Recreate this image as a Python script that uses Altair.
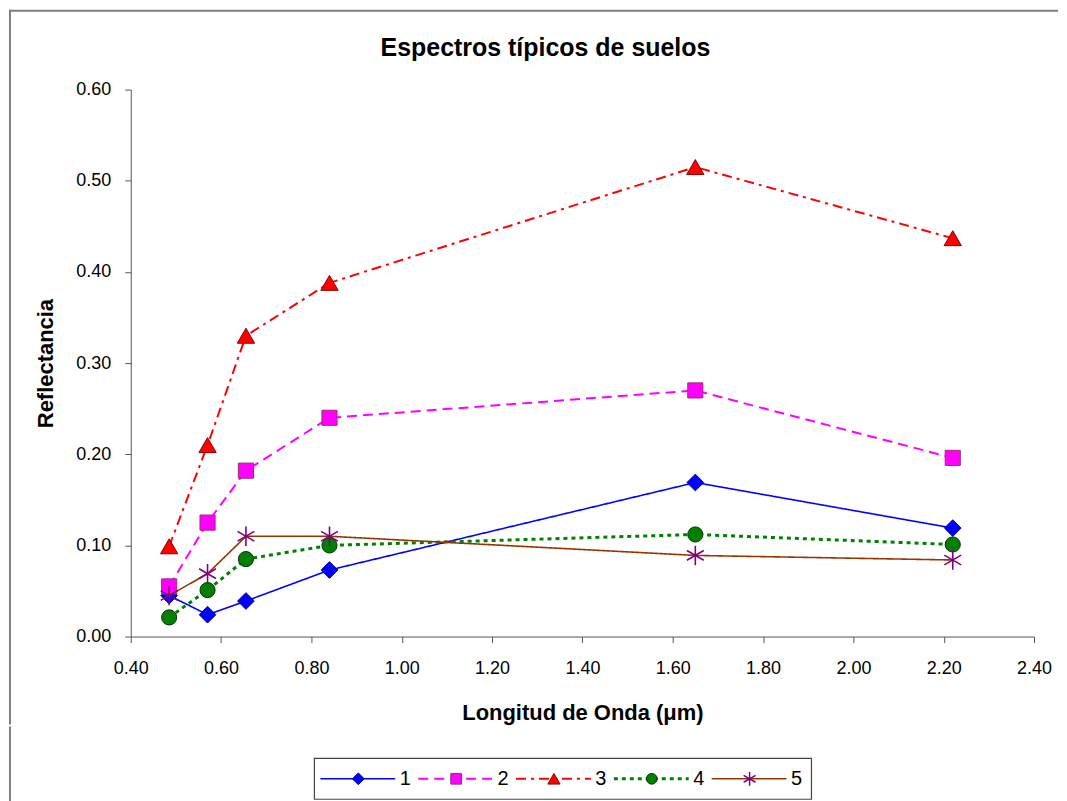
import altair as alt
import pandas as pd

# ---------------- data ----------------
wavelength = [0.485, 0.57, 0.655, 0.84, 1.65, 2.22]
series_names = ["1", "2", "3", "4", "5"]
serie_1 = [0.045, 0.024, 0.039, 0.073, 0.169, 0.119]
serie_2 = [0.055, 0.125, 0.182, 0.240, 0.270, 0.196]
serie_3 = [0.099, 0.210, 0.330, 0.388, 0.515, 0.437]
serie_4 = [0.021, 0.051, 0.085, 0.100, 0.112, 0.101]
serie_5 = [0.045, 0.069, 0.110, 0.110, 0.089, 0.084]
x_ticks = [0.40, 0.60, 0.80, 1.00, 1.20, 1.40, 1.60, 1.80, 2.00, 2.20, 2.40]
y_ticks = [0.00, 0.10, 0.20, 0.30, 0.40, 0.50, 0.60]

values = [serie_1, serie_2, serie_3, serie_4, serie_5]

ASTERISK = "M0,-1L0,1M-0.866,-0.5L0.866,0.5M-0.866,0.5L0.866,-0.5"

styles = {
    "1": dict(line="#0000FF", dash=[1, 0], width=1.6, shape="diamond",
              fill="#0000FF", stroke="#000080", size=280, filled=True),
    "2": dict(line="#FF00FF", dash=[10, 6], width=2, shape="square",
              fill="#FF00FF", stroke="#993366", size=230, filled=True),
    "3": dict(line="#FF0000", dash=[10, 5, 3, 5], width=2, shape="triangle-up",
              fill="#FF0000", stroke="#800000", size=300, filled=True),
    "4": dict(line="#008000", dash=[4, 4], width=3, shape="circle",
              fill="#008000", stroke="#003300", size=230, filled=True),
    "5": dict(line="#993300", dash=[1, 0], width=1.6, shape=ASTERISK,
              fill="#800080", stroke="#800080", size=380, filled=False),
}

FONT = "Liberation Sans"
W, H = 905, 548

xscale = alt.Scale(domain=[0.4, 2.4], nice=False, zero=False)
yscale = alt.Scale(domain=[0, 0.6], nice=False)

xaxis = alt.Axis(values=x_ticks, format=".2f", grid=False, title="Longitud de Onda (μm)",
                 labelFont=FONT, labelFontSize=18, labelColor="#000",
                 titleFont=FONT, titleFontSize=22, titleFontWeight="bold", titleColor="#000",
                 domainColor="#555", tickColor="#555", tickSize=6, labelPadding=17,
                 titlePadding=25, labelFlush=False)
yaxis = alt.Axis(values=y_ticks, format=".2f", grid=False, title="Reflectancia",
                 labelFont=FONT, labelFontSize=18, labelColor="#000",
                 titleFont=FONT, titleFontSize=22, titleFontWeight="bold", titleColor="#000",
                 domainColor="#555", tickColor="#555", tickSize=6, labelPadding=14,
                 titlePadding=18, labelFlush=False)

layers = []
for name, vals in zip(series_names, values):
    st = styles[name]
    df = pd.DataFrame({"wl": wavelength, "value": vals, "serie": name})
    line = alt.Chart(df).mark_line(color=st["line"], strokeDash=st["dash"],
                                   strokeWidth=st["width"]).encode(
        x=alt.X("wl:Q", scale=xscale, axis=xaxis),
        y=alt.Y("value:Q", scale=yscale, axis=yaxis),
    )
    pts = alt.Chart(df).mark_point(shape=st["shape"], size=st["size"], opacity=1,
                                   stroke=st["stroke"], fill=st["fill"],
                                   strokeWidth=1 if st["filled"] else 1.6,
                                   filled=st["filled"]).encode(x="wl:Q", y="value:Q")
    layers += [line, pts]

# outer frame of the figure (decoration): top and left edges
one = pd.DataFrame({"k": [0]})
frame_top = alt.Chart(one).mark_rule(color="#7f7f7f", strokeWidth=2).encode(
    x=alt.value(-122), x2=alt.value(929), y=alt.value(-79))
frame_left = alt.Chart(one).mark_rule(color="#7f7f7f", strokeWidth=2).encode(
    x=alt.value(-121), y=alt.value(-80), y2=alt.value(636))

main = alt.layer(*layers, frame_top, frame_left).properties(
    width=W, height=H,
    title=alt.TitleParams("Espectros típicos de suelos", font=FONT, fontSize=25,
                          fontWeight="bold", color="#000", offset=-52, dx=-37),
)

# ---------------- legend (own chart, own scales) ----------------
LW, LH = 905, 73
BOX_L, BOX_R, BOX_T, BOX_B = 184, 682, 28, 69
STEP = 98
FIRST = 228
lx = alt.Scale(domain=[0, LW], nice=False, zero=False)
ly = alt.Scale(domain=[0, LH], nice=False, zero=False, reverse=True)
leg_layers = []
box = alt.Chart(pd.DataFrame({"x0": [BOX_L], "x1": [BOX_R], "y0": [BOX_T], "y1": [BOX_B]})).mark_rect(
    fill="white", stroke="#444", strokeWidth=1.2).encode(
    x=alt.X("x0:Q", scale=lx, axis=None), x2="x1:Q",
    y=alt.Y("y0:Q", scale=ly, axis=None), y2="y1:Q")
leg_layers.append(box)
mid = (BOX_T + BOX_B) / 2
for i, name in enumerate(series_names):
    st = styles[name]
    c = FIRST + i * STEP
    dl = pd.DataFrame({"lx": [c - 38, c + 37], "ly": [mid, mid]})
    dp = pd.DataFrame({"lx": [c], "ly": [mid]})
    dt = pd.DataFrame({"lx": [c + 47], "ly": [mid], "serie": [name]})
    leg_layers.append(alt.Chart(dl).mark_line(color=st["line"], strokeDash=st["dash"],
                                              strokeWidth=st["width"]).encode(
        x=alt.X("lx:Q", scale=lx, axis=None), y=alt.Y("ly:Q", scale=ly, axis=None)))
    leg_layers.append(alt.Chart(dp).mark_point(shape=st["shape"], size=st["size"] * 0.5,
                                               opacity=1, stroke=st["stroke"], fill=st["fill"],
                                               strokeWidth=1 if st["filled"] else 1.5,
                                               filled=st["filled"]).encode(
        x=alt.X("lx:Q", scale=lx, axis=None), y=alt.Y("ly:Q", scale=ly, axis=None)))
    leg_layers.append(alt.Chart(dt).mark_text(font=FONT, fontSize=20, color="#000",
                                              align="center", baseline="middle").encode(
        x=alt.X("lx:Q", scale=lx, axis=None), y=alt.Y("ly:Q", scale=ly, axis=None),
        text="serie:N"))
leg_layers.append(alt.Chart(one).mark_rule(color="#7f7f7f", strokeWidth=2).encode(
    x=alt.value(-121), y=alt.value(-4), y2=alt.value(LH)))

legend = alt.layer(*leg_layers).properties(width=LW, height=LH)

chart = alt.vconcat(main, legend, spacing=0).properties(
    padding={"left": 0, "top": 0, "right": 0, "bottom": 0}, background="white"
).configure_view(stroke=None)

chart.save("out.html", embed_options={"renderer": "svg", "actions": False})
